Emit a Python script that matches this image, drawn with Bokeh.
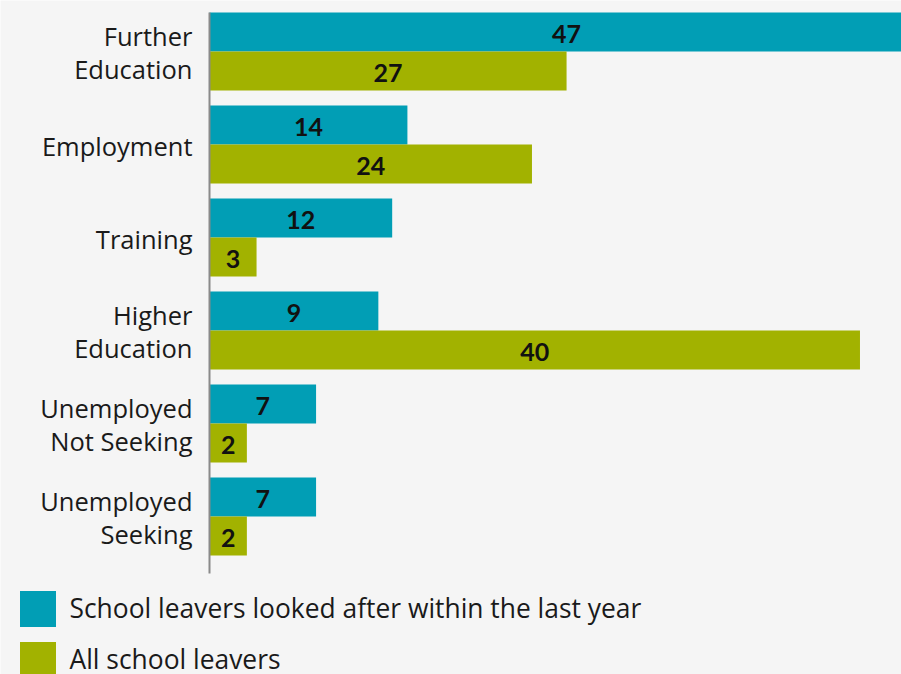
from bokeh.plotting import figure
from bokeh.models import Range1d, ColumnDataSource, Legend, LegendItem
from bokeh.core.properties import value
from bokeh.embed import file_html
from bokeh.resources import INLINE

categories = ["Further\nEducation", "Employment", "Training", "Higher\nEducation",
              "Unemployed\nNot Seeking", "Unemployed\nSeeking"]
# bar lengths as drawn in the picture (value units, 0-50 across the plot width)
looked_after_len = [51.6, 14.3, 13.2, 12.2, 7.7, 7.7]
all_leavers_len = [25.8, 23.3, 3.4, 47.0, 2.7, 2.7]
# printed values
looked_after_lbl = ["47", "14", "12", "9", "7", "7"]
all_leavers_lbl = ["27", "24", "3", "40", "2", "2"]
series_names = ["School leavers looked after within the last year", "All school leavers"]

TEAL = "#019eb5"
OLIVE = "#a2b200"
BG = "#f5f5f5"
FONT = "Open Sans"
NUMFONT = "Lato"

W, H = 901, 674
LEFT_PX = 209           # where the value axis starts
PX_PER_UNIT = 692 / 50  # horizontal scale
ROW_PX = 93             # vertical size of one category band
FIRST_ROW_PX = 51       # centre of the first category band

idx = list(range(len(categories)))
off = 0.2097
hgt = 0.419

src_a = ColumnDataSource(dict(y=[i - off for i in idx], right=looked_after_len,
                              xm=[v / 2 for v in looked_after_len], lbl=looked_after_lbl))
src_b = ColumnDataSource(dict(y=[i + off for i in idx], right=all_leavers_len,
                              xm=[v / 2 for v in all_leavers_len], lbl=all_leavers_lbl))
src_c = ColumnDataSource(dict(y=idx, x=[0] * len(idx), txt=categories))

x_start = -LEFT_PX / PX_PER_UNIT
x_end = (W - LEFT_PX) / PX_PER_UNIT
y_top = -FIRST_ROW_PX / ROW_PX
y_bottom = (H - FIRST_ROW_PX) / ROW_PX

p = figure(width=W, height=H, output_backend="svg", toolbar_location=None,
           x_range=Range1d(x_start, x_end), y_range=Range1d(y_bottom, y_top),
           min_border_left=0, min_border_right=0, min_border_top=0, min_border_bottom=0,
           background_fill_color=BG, border_fill_color=BG, outline_line_color=None)
p.axis.visible = False
p.grid.visible = False

r1 = p.hbar(y="y", right="right", left=0, height=hgt, source=src_a, color=TEAL, line_color=None)
r2 = p.hbar(y="y", right="right", left=0, height=hgt, source=src_b, color=OLIVE, line_color=None)

# category axis: line + labels
axis_top = idx[0] - off - hgt / 2
axis_bottom = idx[-1] + off + hgt / 2 + 18 / ROW_PX
p.segment(x0=[0], y0=[axis_top], x1=[0], y1=[axis_bottom], line_color="#8a8a8a", line_width=2)
p.text(x="x", y="y", text="txt", source=src_c, x_offset=-17, text_align="right",
       text_baseline="middle", text_font=value(FONT), text_font_size="25.5px",
       text_line_height=0.95, text_color="#1a1a1a", y_offset=1)

for s in (src_a, src_b):
    p.text(x="xm", y="y", text="lbl", source=s, text_align="center", text_baseline="middle",
           text_font=value(NUMFONT), text_font_style="bold", text_font_size="25px",
           text_color="#111111", y_offset=2)

legend = Legend(items=[LegendItem(label=series_names[0], renderers=[r1]),
                       LegendItem(label=series_names[1], renderers=[r2])],
                location=(14.5, -7.5), orientation="vertical",
                glyph_width=45, glyph_height=45, label_height=45, spacing=6,
                label_standoff=10, padding=0, margin=0,
                label_text_font=FONT, label_text_font_size="26.4px", label_text_color="#1a1a1a",
                background_fill_alpha=0, border_line_color=None)
p.add_layout(legend, "center")

open("out.html", "w").write(file_html(p, INLINE))
